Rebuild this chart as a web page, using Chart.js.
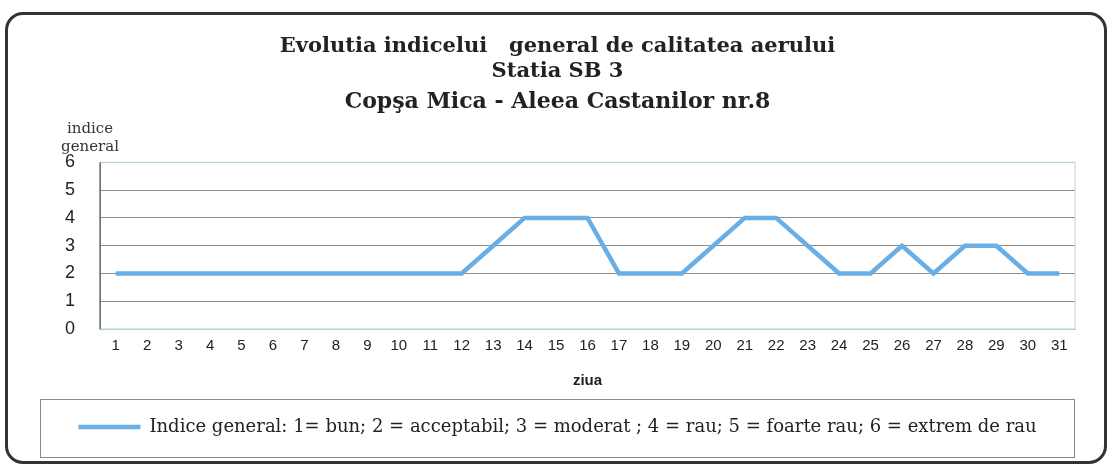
<!DOCTYPE html>
<html>
<head>
<meta charset="utf-8">
<script src="https://cdn.jsdelivr.net/npm/chart.js@4"></script>
<style>
  body { margin: 0; background: #fff; }
  #wrap { position: relative; width: 1111px; height: 467px; }
  #frame {
    position: absolute; left: 5px; top: 12px; width: 1096px; height: 446px;
    border: 3px solid #333; border-radius: 18px; pointer-events: none;
  }
</style>
</head>
<body>
<div id="wrap">
  <canvas id="chart" width="1111" height="467"></canvas>
  <div id="frame"></div>
</div>
<script>
// zilele lunii
var days = [];
for (var d = 1; d <= 31; d++) days.push(String(d));

// indice general pe zile
var indice = [2, 2, 2, 2, 2, 2, 2, 2, 2, 2, 2, 2, 3, 4, 4, 4, 2, 2, 2, 3,
              4, 4, 3, 2, 2, 3, 2, 3, 3, 2, 2];

var titleLines = ['Evolutia indicelui   general de calitatea aerului', 'Statia SB 3'];
var subTitle = 'Copşa Mica - Aleea Castanilor nr.8';
var yTitle = ['indice', 'general'];
var xTitle = 'ziua';
var seriesName = 'Indice general: 1= bun; 2 = acceptabil; 3 = moderat ; 4 = rau; 5 = foarte rau; 6 = extrem de rau';

// eticheta axei Y deasupra axei + chenarul legendei
var extras = {
  id: 'extras',
  afterDraw: function (chart) {
    var c = chart.ctx, a = chart.chartArea, lg = chart.legend;
    c.save();
    c.fillStyle = '#333';
    c.font = '15px "DejaVu Serif"';
    c.textAlign = 'center';
    c.textBaseline = 'middle';
    c.fillText(yTitle[0], 90, 129);
    c.fillText(yTitle[1], 90, 147);
    // chenar legenda
    c.strokeStyle = '#8a8a8a';
    c.lineWidth = 1;
    c.strokeRect(lg.left + 0.5, lg.top + 0.5, lg.width - 1, lg.height + 11);
    // chenar zona grafic
    c.strokeStyle = '#b7d0de';
    c.strokeRect(a.left, a.top, a.right - a.left, a.bottom - a.top);
    c.strokeStyle = '#555';
    c.beginPath();
    c.moveTo(a.left, a.top);
    c.lineTo(a.left, a.bottom);
    c.stroke();
    c.restore();
  }
};

new Chart(document.getElementById('chart'), {
  type: 'line',
  data: {
    labels: days,
    datasets: [{
      label: seriesName,
      data: indice,
      borderColor: '#6aaee6',
      backgroundColor: '#6aaee6',
      borderWidth: 4.5,
      pointRadius: 0,
      tension: 0,
      fill: false
    }]
  },
  options: {
    responsive: false,
    animation: false,
    layout: { padding: { left: 40, right: 36, top: 0, bottom: 21 } },
    plugins: {
      title: {
        display: true,
        text: titleLines,
        color: '#222',
        font: { family: '"DejaVu Serif"', size: 21, weight: 'bold', lineHeight: 1.19 },
        padding: { top: 34, bottom: 3 }
      },
      subtitle: {
        display: true,
        text: subTitle,
        color: '#222',
        font: { family: '"DejaVu Serif"', size: 22, weight: 'bold', lineHeight: 1.2 },
        padding: { top: 2, bottom: 47 }
      },
      legend: {
        position: 'bottom',
        labels: {
          usePointStyle: true,
          pointStyle: 'line',
          pointStyleWidth: 62,
          color: '#222',
          font: { family: '"DejaVu Serif"', size: 18 },
          padding: 19
        }
      },
      tooltip: { enabled: false }
    },
    scales: {
      x: {
        offset: true,
        grid: { display: false },
        border: { color: '#b7d0de' },
        ticks: {
          color: '#222', autoSkip: false, maxRotation: 0, padding: 0,
          font: { family: 'Arial, "Liberation Sans"', size: 15 }
        },
        title: {
          display: true, text: xTitle, color: '#222',
          font: { family: 'Arial, "Liberation Sans"', size: 15, weight: 'bold' },
          padding: { top: 17, bottom: 9 }
        }
      },
      y: {
        min: 0, max: 6,
        afterFit: function (s) { s.width = 60; },
        grid: {
          color: function (ctx) { return (ctx.tick.value === 6 || ctx.tick.value === 0) ? '#b7d0de' : '#8c8c8c'; },
          drawTicks: false
        },
        border: { color: '#555' },
        ticks: {
          stepSize: 1, color: '#222', padding: 25,
          font: { family: 'Arial, "Liberation Sans"', size: 18 }
        }
      }
    }
  },
  plugins: [extras]
});
</script>
</body>
</html>
